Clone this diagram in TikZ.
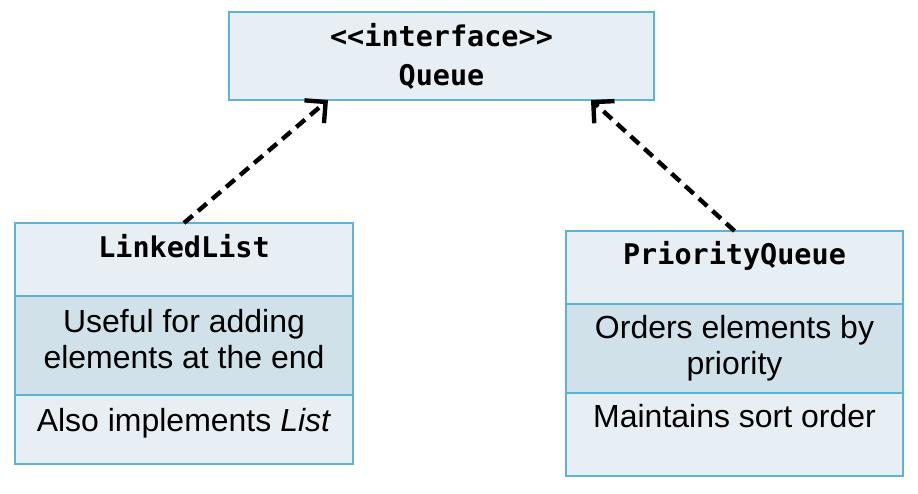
\documentclass[tikz,border=0pt]{standalone}
\usepackage{fontspec}
\setmainfont{Liberation Sans}
\newfontfamily\codefont{DejaVu Sans Mono}
\usepackage{tikz}
\usetikzlibrary{positioning, arrows.meta}
\definecolor{umlline}{RGB}{91,180,210}
\definecolor{umlpale}{RGB}{232,239,244}
\definecolor{umldark}{RGB}{208,225,233}

\begin{document}
\begin{tikzpicture}[
  part/.style={draw=umlline, fill=umlpale, line width=.9pt, inner sep=0pt,
               outer sep=0pt, minimum width=6.75cm},
  code/.style={font=\codefont\bfseries\fontsize{16.2}{22.2}\selectfont},
  body/.style={font=\fontsize{18.2}{20.5}\selectfont, align=center},
  realize/.style={draw=black, line width=2.5pt, dash pattern=on 6.5pt off 4pt,
                  -{Straight Barb[length=3mm, width=6mm, line width=2.5pt]}},
]
\useasboundingbox (0,0) rectangle (18.36,9.88);

% interface
\node[part, minimum width=8.5cm, minimum height=1.76cm, code, align=center]
  (queue) at (8.83,8.76) {<<interface>>\\Queue};

% LinkedList
\node[part, minimum height=1.46cm, anchor=north] (ll-head) at (3.68,5.42) {};
\node[part, fill=umldark, minimum height=1.98cm, below=0pt of ll-head] (ll-body) {};
\node[part, minimum height=1.38cm, below=0pt of ll-body] (ll-note) {};
\node[code, anchor=base] (ll-name) at ([yshift=-.70cm]ll-head.north) {LinkedList};
% base of a two-line node is its last line
\node[body, anchor=base] (ll-use) at ([yshift=-1.46cm]ll-body.north)
  {Useful for adding\\elements at the end};
\node[body, anchor=base] (ll-also) at ([yshift=-.74cm]ll-note.north)
  {Also implements \textit{List}};

% PriorityQueue
\node[part, minimum height=1.46cm, anchor=north] (pq-head) at (14.69,5.26) {};
\node[part, fill=umldark, minimum height=1.78cm, below=0pt of pq-head] (pq-body) {};
\node[part, minimum height=1.66cm, below=0pt of pq-body] (pq-note) {};
\node[code, anchor=base] (pq-name) at ([yshift=-.68cm]pq-head.north) {PriorityQueue};
\node[body, anchor=base] (pq-use) at ([yshift=-1.42cm]pq-body.north)
  {Orders elements by\\priority};
\node[body, anchor=base] (pq-also) at ([yshift=-.70cm]pq-note.north)
  {Maintains sort order};

\coordinate (ll-tip) at ([xshift=-2.27cm]queue.south);
\coordinate (pq-tip) at ([xshift=2.99cm]queue.south);
\draw[realize] (ll-head.north) -- (ll-tip);
\draw[realize] (pq-head.north) -- (pq-tip);
\end{tikzpicture}
\end{document}
